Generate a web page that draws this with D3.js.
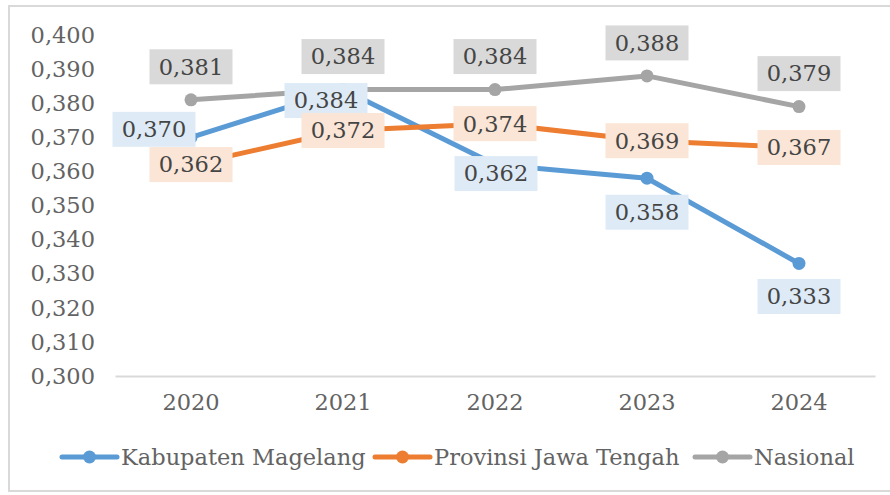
<!DOCTYPE html>
<html>
<head>
<meta charset="utf-8">
<script src="https://cdn.jsdelivr.net/npm/d3@7"></script>
<style>
  body { margin: 0; background: #fff; }
  svg { display: block; font-family: "DejaVu Serif", serif; }
</style>
</head>
<body>
<script>
var years = ["2020", "2021", "2022", "2023", "2024"];
var magelang = [0.370, 0.384, 0.362, 0.358, 0.333];
var jateng = [0.362, 0.372, 0.374, 0.369, 0.367];
var nasional = [0.381, 0.384, 0.384, 0.388, 0.379];
var yTicks = [0.300, 0.310, 0.320, 0.330, 0.340, 0.350, 0.360, 0.370, 0.380, 0.390, 0.400];

// label offsets from each point (dx, dy) -- roughly where the original put them
var series = [
  { name: "Kabupaten Magelang", values: magelang, color: "#5B9BD5", boxFill: "#DEEBF7",
    offsets: [[-37, -8], [-17, 11], [1, 9], [0, 34], [0, 33]] },
  { name: "Provinsi Jawa Tengah", values: jateng, color: "#ED7D31", boxFill: "#FBE5D6",
    offsets: [[0, 0], [0, 0], [0, 0], [0, 0], [0, 0]] },
  { name: "Nasional", values: nasional, color: "#A5A5A5", boxFill: "#D9D9D9",
    offsets: [[0, -33], [0, -33], [0, -33], [0, -33], [0, -33]] }
];

var W = 890, H = 495;
var margin = {top: 35, right: 15, bottom: 118, left: 115};
var fontSize = "22.5px";

var svg = d3.select("body").append("svg")
    .attr("width", W)
    .attr("height", H);

// outer frame
svg.append("rect")
    .attr("x", 9).attr("y", 6)
    .attr("width", 890).attr("height", 485)
    .attr("fill", "none")
    .attr("stroke", "#D9D9D9")
    .attr("stroke-width", 2);

var x = d3.scaleBand().domain(years).range([margin.left, W - margin.right]);
var y = d3.scaleLinear().domain([0.3, 0.4]).range([H - margin.bottom - 1, margin.top]);

var locale = d3.formatLocale({decimal: ",", thousands: ".", grouping: [3], currency: ["", ""]});
var fmt = locale.format(".3f");

// y axis labels
var yAxis = svg.append("g")
    .attr("transform", "translate(" + (margin.left - 20) + ",0)")
    .call(d3.axisLeft(y).tickValues(yTicks).tickFormat(fmt).tickSize(0).tickPadding(0));
yAxis.select(".domain").remove();
yAxis.selectAll("text")
    .attr("fill", "#636363")
    .style("font-size", fontSize)
    .style("font-family", "DejaVu Serif, serif");

// x axis line + labels
var xAxis = svg.append("g")
    .attr("transform", "translate(0," + y(0.3) + ")")
    .call(d3.axisBottom(x).tickSize(0).tickPadding(18));
xAxis.select(".domain").attr("stroke", "#D9D9D9").attr("stroke-width", 2);
xAxis.selectAll("text")
    .attr("fill", "#636363")
    .style("font-size", fontSize)
    .style("font-family", "DejaVu Serif, serif");

function cx(i) { return x(years[i]) + x.bandwidth() / 2; }

var line = d3.line()
    .x(function(d, i) { return cx(i); })
    .y(function(d) { return y(d); });

// lines and markers
series.forEach(function(s) {
  svg.append("path")
      .attr("d", line(s.values))
      .attr("fill", "none")
      .attr("stroke", s.color)
      .attr("stroke-width", 5)
      .attr("stroke-linejoin", "round")
      .attr("stroke-linecap", "round");
  svg.selectAll(null)
      .data(s.values)
    .enter().append("circle")
      .attr("cx", function(d, i) { return cx(i); })
      .attr("cy", function(d) { return y(d); })
      .attr("r", 6.5)
      .attr("fill", s.color);
});

// data labels with filled boxes
var boxW = 83, boxH = 35;
series.forEach(function(s) {
  var g = svg.append("g").selectAll("g")
      .data(s.values)
    .enter().append("g")
      .attr("transform", function(d, i) {
        return "translate(" + (cx(i) + s.offsets[i][0]) + "," + (y(d) + s.offsets[i][1]) + ")";
      });
  g.append("rect")
      .attr("x", -boxW / 2).attr("y", -boxH / 2)
      .attr("width", boxW).attr("height", boxH)
      .attr("fill", s.boxFill);
  g.append("text")
      .attr("text-anchor", "middle")
      .attr("dy", "0.35em")
      .attr("fill", "#454545")
      .style("font-size", fontSize)
      .text(function(d) { return fmt(d); });
});

// legend
var legendX = [62, 375, 695];
var legend = svg.append("g").selectAll("g")
    .data(series)
  .enter().append("g")
    .attr("transform", function(d, i) { return "translate(" + legendX[i] + ",457)"; });
legend.append("line")
    .attr("x1", 0).attr("x2", 55)
    .attr("stroke", function(d) { return d.color; })
    .attr("stroke-width", 5)
    .attr("stroke-linecap", "round");
legend.append("circle")
    .attr("cx", 27.5).attr("r", 6.5)
    .attr("fill", function(d) { return d.color; });
legend.append("text")
    .attr("x", 59)
    .attr("dy", "0.35em")
    .attr("fill", "#636363")
    .style("font-size", fontSize)
    .text(function(d) { return d.name; });
</script>
</body>
</html>
